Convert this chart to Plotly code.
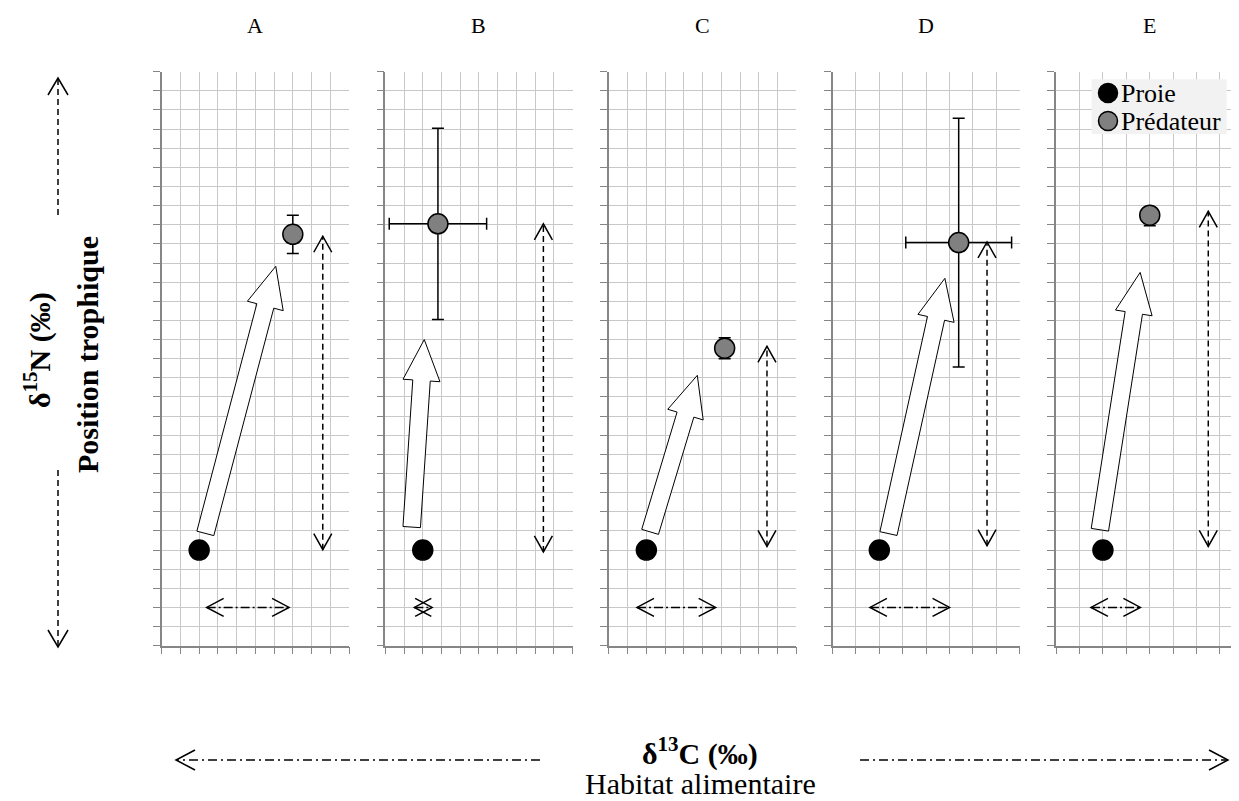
import math
import plotly.graph_objects as go

# ---------------- data ----------------
panels = ["A", "B", "C", "D", "E"]
x_divisions = [10, 10, 10, 8, 8]          # grid columns per panel
y_divisions = 30

prey_x = [2, 2, 2, 2, 2]
prey_y = [5, 5, 5, 5, 5]

pred_x = [7.0, 2.81, 6.18, 5.39, 4.0]
pred_y = [21.5, 22.05, 15.55, 21.07, 22.5]
pred_err_x = [0, 2.6, 0, 2.26, 0]
pred_err_y_plus = [1.0, 5.0, 0.55, 6.5, 0.3]
pred_err_y_minus = [1.0, 5.0, 0.55, 6.5, 0.55]

# block arrows (tail -> tip)
arrow_tail_x = [2.33, 1.41, 2.2, 2.39, 1.87]
arrow_tail_y = [5.87, 6.2, 5.95, 5.86, 6.06]
arrow_tip_x = [6.09, 2.08, 4.72, 4.8, 3.59]
arrow_tip_y = [19.83, 16.0, 14.13, 19.2, 19.51]

# vertical dashed double arrows (trophic range)
vrange_x = [8.6, 8.44, 8.44, 6.6, 6.5]
vrange_y0 = [5.02, 4.9, 5.19, 5.23, 5.19]
vrange_y1 = [21.4, 22.05, 15.65, 21.1, 22.7]

# horizontal dash-dot double arrows (habitat range)
hrange_x0 = [2.4, 1.55, 1.5, 1.6, 1.49]
hrange_x1 = [6.8, 2.5, 5.7, 5.0, 3.6]
hrange_y = [2, 2, 2, 2, 2]

legend_names = ["Proie", "Prédateur"]

# ---------------- layout constants ----------------
W, H = 1239, 801          # browser window
OFF = 8                   # default page body margin
FW, FH = W - OFF, H - OFF # figure size so that it ends at the window edge
PANEL_LEFT0 = 161.7
PANEL_STEP = 223.6
PANEL_W = 187.3
Y_TOP, Y_BOT = 71.7, 645.7
FONT = "Liberation Serif, Times New Roman, serif"
GRID = "#c8c8c8"
AXIS = "#868686"

def px(xp):   # window pixel -> paper x
    return (xp - OFF) / FW

def py(yp):   # window pixel -> paper y
    return 1 - (yp - OFF) / FH

fig = go.Figure()
shapes = []
annotations = []

for i, name in enumerate(panels):
    left = PANEL_LEFT0 + i * PANEL_STEP
    ppx = PANEL_W / x_divisions[i]
    ppy = (Y_BOT - Y_TOP) / y_divisions
    right = min(left + PANEL_W, W)
    xmax = (right - left) / ppx
    sfx = "" if i == 0 else str(i + 1)
    xa = "x" + sfx
    ya = "y" + sfx
    common = dict(showgrid=True, gridcolor=GRID, gridwidth=1, zeroline=False,
                  showline=True, linecolor=AXIS, linewidth=1.5, ticks="outside",
                  ticklen=7, tickcolor=AXIS, tickwidth=1, showticklabels=False,
                  dtick=1, tick0=0, fixedrange=True)
    fig.update_layout(**{
        "xaxis" + sfx: dict(domain=[px(left), min(px(right), 1.0)], range=[0, xmax],
                            anchor=ya, **common),
        "yaxis" + sfx: dict(domain=[py(Y_BOT), py(Y_TOP)], range=[0, y_divisions],
                            anchor=xa, **common),
    })

    # prey
    fig.add_trace(go.Scatter(
        x=[prey_x[i]], y=[prey_y[i]], xaxis=xa, yaxis=ya, mode="markers",
        name=legend_names[0], showlegend=False,
        marker=dict(size=20, color="black", line=dict(color="black", width=1.5))))
    # predator
    ex = dict(type="data", array=[pred_err_x[i]], color="black", thickness=1.5,
              width=6, visible=pred_err_x[i] > 0)
    ey = dict(type="data", symmetric=False, array=[pred_err_y_plus[i]],
              arrayminus=[pred_err_y_minus[i]], color="black", thickness=1.5, width=6)
    fig.add_trace(go.Scatter(
        x=[pred_x[i]], y=[pred_y[i]], xaxis=xa, yaxis=ya, mode="markers",
        name=legend_names[1], showlegend=False, error_x=ex, error_y=ey,
        marker=dict(size=20, color="#808080", line=dict(color="black", width=1.5))))

    # helpers in pixel space of this panel
    def to_px(x, y):
        return x * ppx, y * ppy

    def to_data(X, Y):
        return X / ppx, Y / ppy

    # block arrow
    X0, Y0 = to_px(arrow_tail_x[i], arrow_tail_y[i])
    X1, Y1 = to_px(arrow_tip_x[i], arrow_tip_y[i])
    L = math.hypot(X1 - X0, Y1 - Y0)
    ux, uy = (X1 - X0) / L, (Y1 - Y0) / L
    nx, ny = -uy, ux
    shaft, headw, headl = 17.5, 37, 41
    bx, by = X1 - ux * headl, Y1 - uy * headl
    pts = [(X0 + nx * shaft / 2, Y0 + ny * shaft / 2),
           (bx + nx * shaft / 2, by + ny * shaft / 2),
           (bx + nx * headw / 2, by + ny * headw / 2),
           (X1, Y1),
           (bx - nx * headw / 2, by - ny * headw / 2),
           (bx - nx * shaft / 2, by - ny * shaft / 2),
           (X0 - nx * shaft / 2, Y0 - ny * shaft / 2)]
    path = "M " + " L ".join("%.4f,%.4f" % to_data(a, b) for a, b in pts) + " Z"
    shapes.append(dict(type="path", xref=xa, yref=ya, path=path,
                       fillcolor="white", line=dict(color="black", width=1)))

    def vhead(tx, ty, dx, dy, hl=16, hw=9):
        # open V arrowhead with tip at (tx,ty) in data, direction (dx,dy) in px
        T = to_px(tx, ty)
        n = (-dy, dx)
        a = (T[0] - dx * hl + n[0] * hw, T[1] - dy * hl + n[1] * hw)
        b = (T[0] - dx * hl - n[0] * hw, T[1] - dy * hl - n[1] * hw)
        p = "M %.4f,%.4f L %.4f,%.4f L %.4f,%.4f" % (*to_data(*a), tx, ty, *to_data(*b))
        return dict(type="path", xref=xa, yref=ya, path=p,
                    line=dict(color="black", width=1.5))

    # vertical dashed double arrow
    shapes.append(dict(type="line", xref=xa, yref=ya,
                       x0=vrange_x[i], x1=vrange_x[i], y0=vrange_y0[i], y1=vrange_y1[i],
                       line=dict(color="black", width=1.5, dash="6px,4px")))
    shapes.append(vhead(vrange_x[i], vrange_y1[i], 0, 1))
    shapes.append(vhead(vrange_x[i], vrange_y0[i], 0, -1))

    # horizontal dash-dot double arrow
    shapes.append(dict(type="line", xref=xa, yref=ya,
                       x0=hrange_x0[i], x1=hrange_x1[i], y0=hrange_y[i], y1=hrange_y[i],
                       line=dict(color="black", width=1.5, dash="9px,3px,2px,3px")))
    shapes.append(vhead(hrange_x1[i], hrange_y[i], 1, 0, hl=17))
    shapes.append(vhead(hrange_x0[i], hrange_y[i], -1, 0, hl=17))

    # panel letter
    annotations.append(dict(xref="paper", yref="paper", x=px(left + PANEL_W / 2),
                            y=py(25), text=name, showarrow=False,
                            xanchor="center", yanchor="middle",
                            font=dict(family=FONT, size=22, color="black")))

# ---- manual legend (inside panel E) ----
lg_left, lg_top, lg_right, lg_bot = 1091.7, 79.3, 1226.7, 134.0
shapes.append(dict(type="rect", xref="paper", yref="paper", x0=px(lg_left), x1=px(lg_right),
                   y0=py(lg_bot), y1=py(lg_top), fillcolor="#f2f2f2",
                   line=dict(width=0), layer="above"))
for k, (nm, col) in enumerate(zip(legend_names, ["black", "#808080"])):
    cy = 93 + k * 28
    cx = 1108
    shapes.append(dict(type="circle", xref="paper", yref="paper",
                       x0=px(cx - 9.5), x1=px(cx + 9.5), y0=py(cy + 9.5), y1=py(cy - 9.5),
                       fillcolor=col, line=dict(color="black", width=1.5), layer="above"))
    annotations.append(dict(xref="paper", yref="paper", x=px(1119), y=py(cy), text=nm,
                            showarrow=False, xanchor="left", yanchor="middle",
                            font=dict(family=FONT, size=26, color="black")))

# ---- outer decorative axis arrows (window px) ----
def paper_line(x0, y0, x1, y1, dash):
    return dict(type="line", xref="paper", yref="paper", x0=px(x0), y0=py(y0),
                x1=px(x1), y1=py(y1), line=dict(color="black", width=1.5, dash=dash))

def paper_head(tx, ty, dx, dy, hl=17, hw=10):
    # dx,dy in screen px direction (y down)
    n = (-dy, dx)
    a = (tx - dx * hl + n[0] * hw, ty - dy * hl + n[1] * hw)
    b = (tx - dx * hl - n[0] * hw, ty - dy * hl - n[1] * hw)
    return dict(type="path", xref="paper", yref="paper",
                path="M %.5f,%.5f L %.5f,%.5f L %.5f,%.5f" % (px(a[0]), py(a[1]), px(tx), py(ty), px(b[0]), py(b[1])),
                line=dict(color="black", width=1.5))

shapes.append(paper_line(58, 215, 58, 78, "6px,4px"))
shapes.append(paper_head(58, 78, 0, -1))
shapes.append(paper_line(58, 470, 58, 647, "6px,4px"))
shapes.append(paper_head(58, 647, 0, 1))
shapes.append(paper_line(540, 760, 176, 760, "9px,4px,2px,4px"))
shapes.append(paper_head(176, 760, -1, 0, hl=19))
shapes.append(paper_line(860, 760, 1228, 760, "9px,4px,2px,4px"))
shapes.append(paper_head(1228, 760, 1, 0, hl=19))

# ---- axis titles ----
annotations.append(dict(xref="paper", yref="paper", x=px(38), y=py(350),
                        text="<b>δ<sup>15</sup>N (‰)</b>", textangle=-90, showarrow=False,
                        xanchor="center", yanchor="middle",
                        font=dict(family=FONT, size=30, color="black")))
annotations.append(dict(xref="paper", yref="paper", x=px(87), y=py(355),
                        text="<b>Position trophique</b>", textangle=-90, showarrow=False,
                        xanchor="center", yanchor="middle",
                        font=dict(family=FONT, size=30, color="black")))
annotations.append(dict(xref="paper", yref="paper", x=px(700), y=py(751),
                        text="<b>δ<sup>13</sup>C (‰)</b>", showarrow=False,
                        xanchor="center", yanchor="middle",
                        font=dict(family=FONT, size=30, color="black")))
annotations.append(dict(xref="paper", yref="paper", x=px(700), y=py(783),
                        text="Habitat alimentaire", showarrow=False,
                        xanchor="center", yanchor="middle",
                        font=dict(family=FONT, size=30, color="black")))

fig.update_layout(width=FW, height=FH, margin=dict(l=0, r=0, t=0, b=0),
                  paper_bgcolor="white", plot_bgcolor="white", showlegend=False,
                  shapes=shapes, annotations=annotations)

fig.write_html("out.html")
